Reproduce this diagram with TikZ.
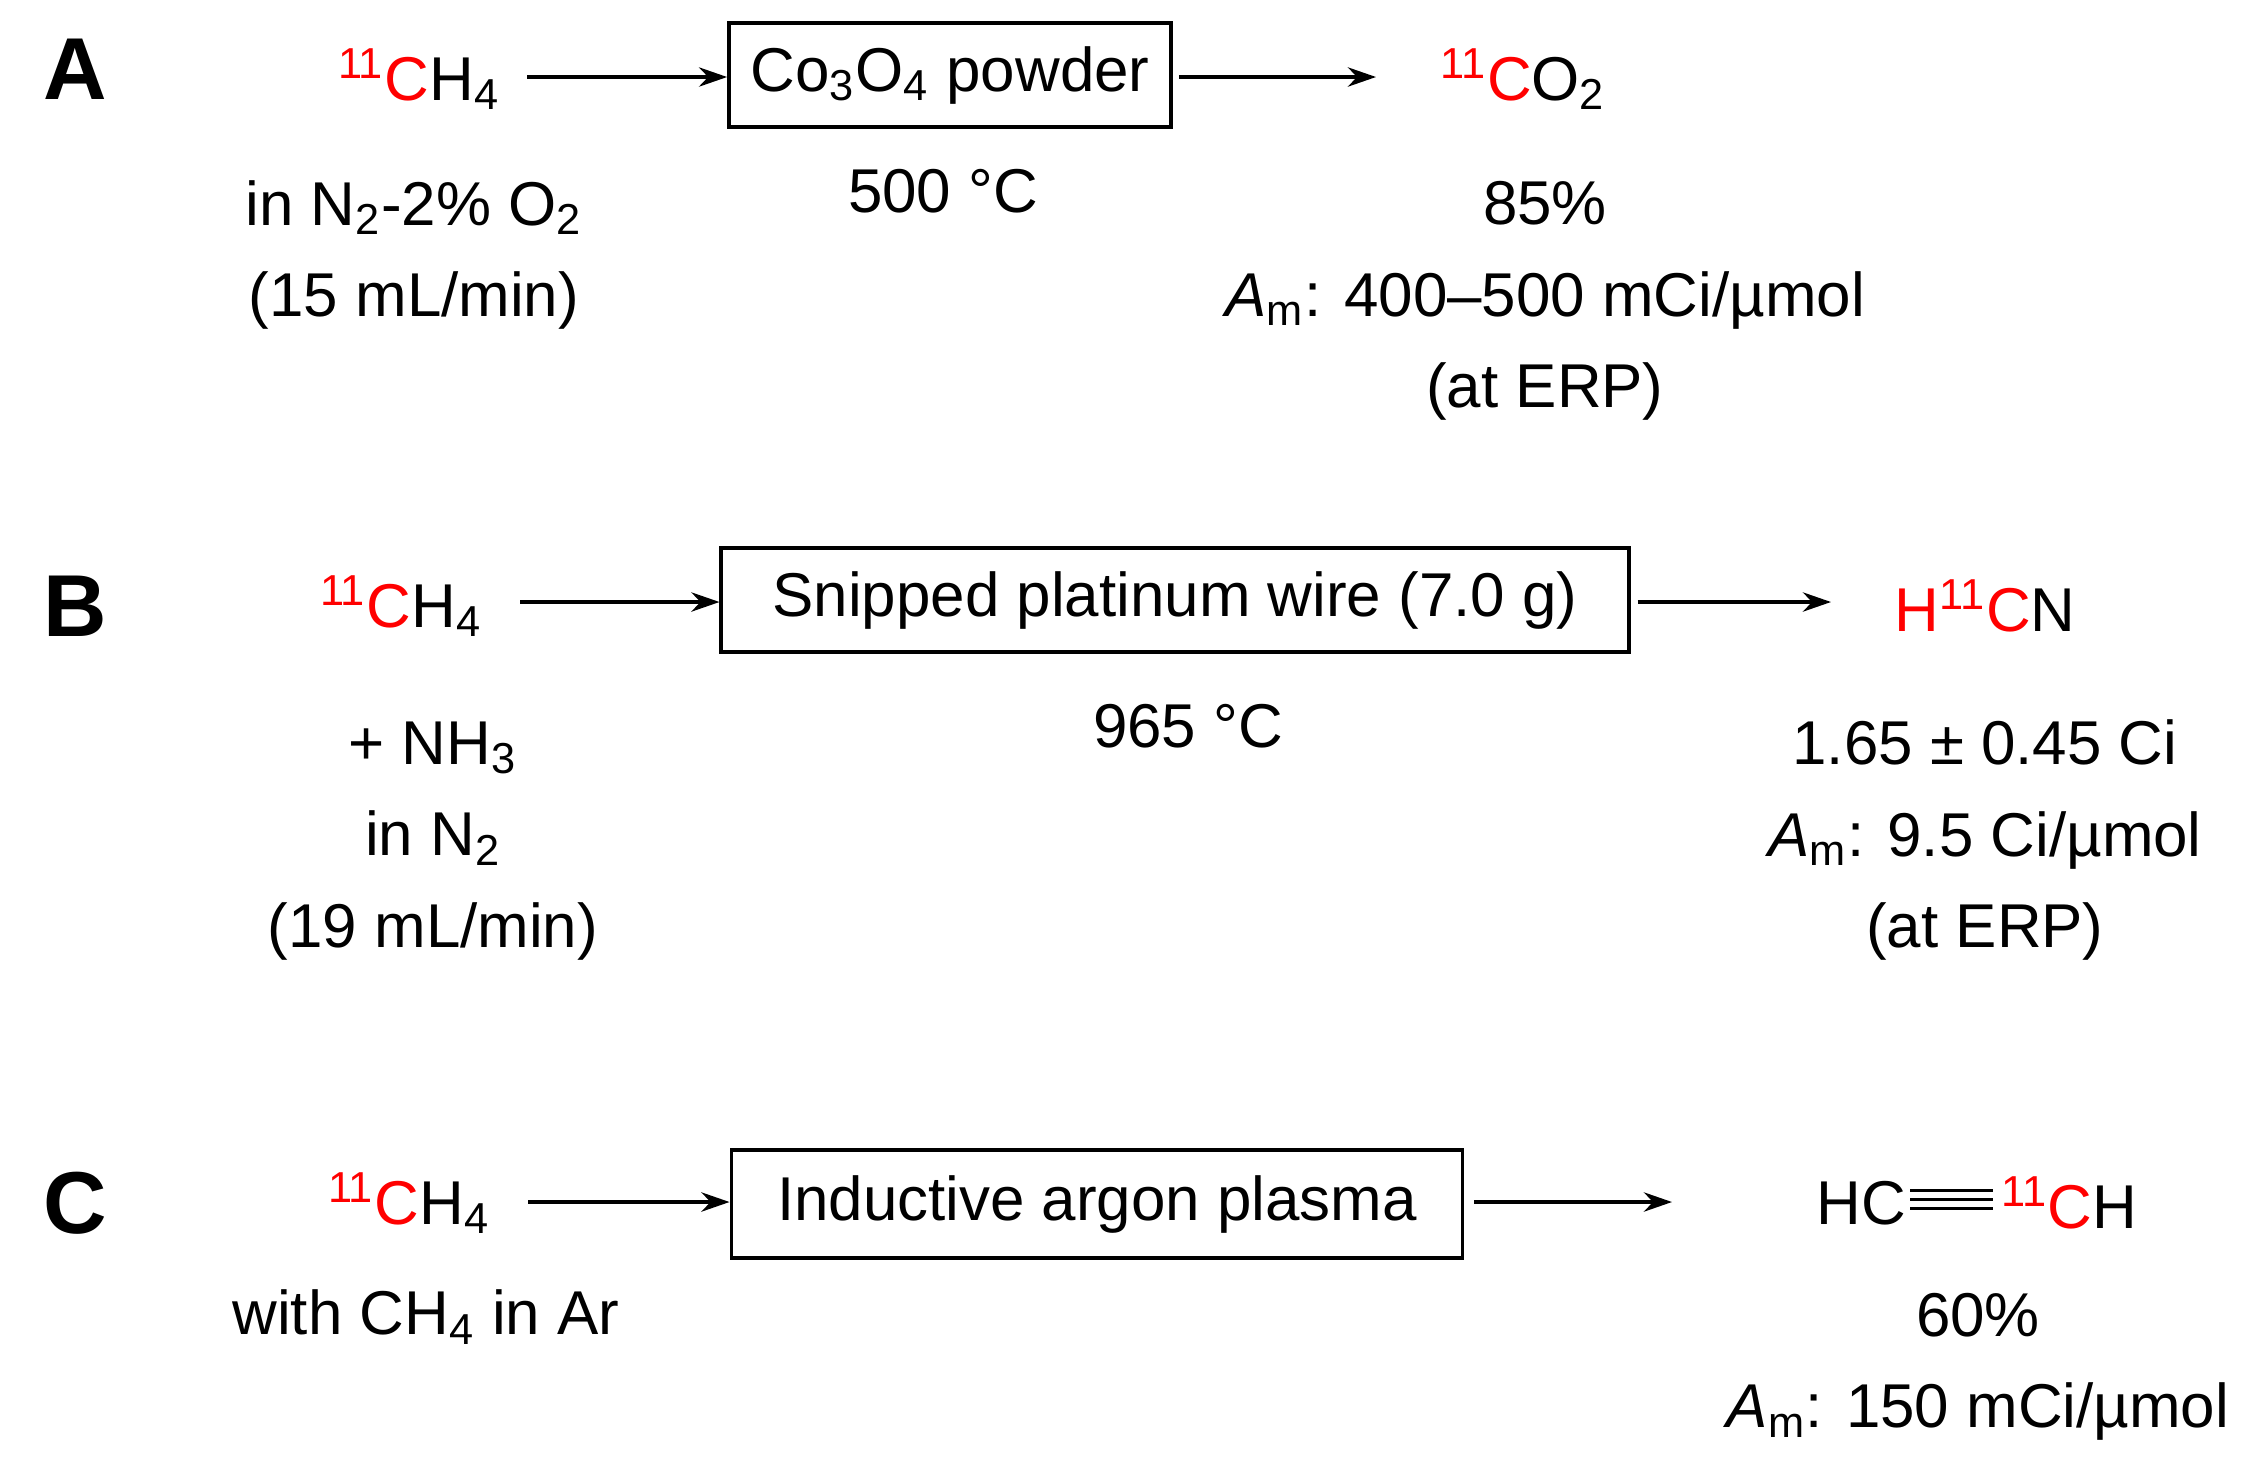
\documentclass[tikz,border=0pt]{standalone}
\usepackage{fontspec}
\setmainfont{Liberation Sans}
\usetikzlibrary{positioning, arrows.meta}

\newcommand{\cel}[1]{\textcolor{red}{\textsuperscript{11}C}#1}
\newcommand{\molact}[1]{\textit{A}\textsubscript{m}: #1}

\begin{document}
\begin{tikzpicture}[x=0.01cm,y=-0.01cm,
  txt/.style={font=\fontsize{17.6}{20}\selectfont, inner sep=1pt},
  lbl/.style={font=\fontsize{25}{28}\selectfont\bfseries},
  furnace/.style={draw, line width=1pt, txt, inner sep=0pt},
  flow/.style={-{Stealth[length=8pt,width=5.5pt]}, line width=0.9pt}]
\useasboundingbox (0,0) rectangle (2253,1459);

% row A
\node[lbl] (la) at (75,69) {A};
\node[txt] (ma) at (419,79) {\cel{H\textsubscript{4}}};
\node[furnace, minimum width=4.42cm, minimum height=1.04cm] (fa) at (950,75) {Co\textsubscript{3}O\textsubscript{4} powder};
\node[txt] (pa) at (1523,79) {\cel{O\textsubscript{2}}};
\coordinate (a1) at (527,77);
\coordinate (a2) at (1376,77);
\draw[flow] (a1) -- (fa.west |- a1);
\draw[flow] (fa.east |- a2) ++(6,0) -- (a2);
\node[txt, align=center] (ga) at (414,255) {in N\textsubscript{2}-2\% O\textsubscript{2}\\[6pt](15 mL/min)};
\node[txt] (ta) at (943,191) {500 °C};
\node[txt, align=center] (ya) at (1545,301) {85\%\\[6pt]\molact{400–500 mCi/µmol}\\[6pt](at ERP)};

% row B
\node[lbl] (lb) at (75,606) {B};
\node[txt] (mb) at (401,606) {\cel{H\textsubscript{4}}};
\node[furnace, minimum width=9.07cm, minimum height=1.04cm] (fb) at (1175,600) {Snipped platinum wire (7.0 g)};
\node[txt] (pb) at (1985,606) {\textcolor{red}{H\textsuperscript{11}C}N};
\coordinate (b1) at (520,602);
\coordinate (b2) at (1831,602);
\draw[flow] (b1) -- (fb.west |- b1);
\draw[flow] (fb.east |- b2) ++(7,0) -- (b2);
\node[txt] (tb) at (1188,726) {965 °C};
\node[txt, align=center] (gb) at (433,841) {+ NH\textsubscript{3}\\[6pt]in N\textsubscript{2}\\[6pt](19 mL/min)};
\node[txt, align=center] (yb) at (1985,840) {1.65 ± 0.45 Ci\\[6pt]\molact{9.5 Ci/µmol}\\[6pt](at ERP)};

% row C
\node[lbl] (lc) at (75,1203) {C};
\node[txt] (mc) at (409,1203) {\cel{H\textsubscript{4}}};
\node[furnace, minimum width=7.31cm, minimum height=1.08cm] (fc) at (1097,1204) {Inductive argon plasma};
\coordinate (c1) at (528,1202);
\coordinate (c2) at (1672,1202);
\draw[flow] (c1) -- (fc.west |- c1);
\draw[flow] (fc.east |- c2) ++(10,0) -- (c2);
\node[txt, anchor=east] (hc) at (1910,1203) {HC};
\node[txt, anchor=west] (ch) at (1997,1203) {\cel{H}};
\foreach \dy in {-9,0,9}
  \draw[line width=0.8pt] ([yshift=\dy*0.01cm+1pt]hc.east) -- ([xshift=-1pt,yshift=\dy*0.01cm+1pt]hc.east -| ch.west);
\node[txt] (gc) at (426,1317) {with CH\textsubscript{4} in Ar};
\node[txt, align=center] (yc) at (1978,1367) {60\%\\[6pt]\molact{150 mCi/µmol}};
\end{tikzpicture}
\end{document}
